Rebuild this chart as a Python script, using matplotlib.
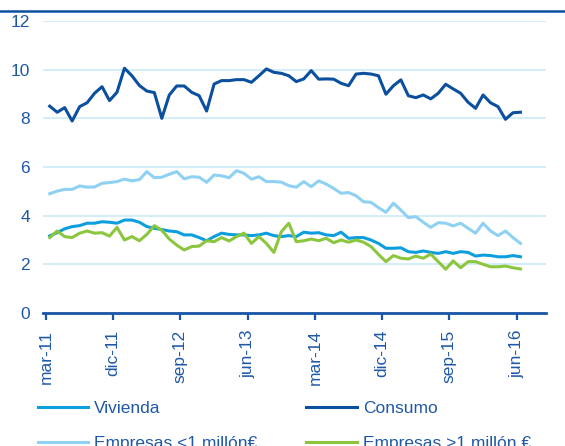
import numpy as np
import matplotlib
matplotlib.use("Agg")
import matplotlib.pyplot as plt
from matplotlib.lines import Line2D
import matplotlib.transforms as mtransforms

plt.rcParams['font.family'] = ['Liberation Sans', 'DejaVu Sans']

# ---- data (monthly, mar-11 .. jun-16) ----
tick_labels = ["mar-11", "dic-11", "sep-12", "jun-13", "mar-14", "dic-14", "sep-15", "jun-16"]

consumo = [8.50, 8.25, 8.44, 7.89, 8.48, 8.64, 9.03, 9.30, 8.73, 9.07,
           10.06, 9.75, 9.35, 9.12, 9.06, 8.00, 8.96, 9.33, 9.33, 9.07,
           8.93, 8.30, 9.41, 9.55, 9.55, 9.59, 9.59, 9.48, 9.75, 10.03,
           9.89, 9.85, 9.75, 9.51, 9.62, 9.96, 9.61, 9.62, 9.61, 9.44,
           9.34, 9.82, 9.85, 9.82, 9.75, 8.99, 9.34, 9.58, 8.93, 8.85,
           8.96, 8.80, 9.03, 9.40, 9.21, 9.03, 8.66, 8.41, 8.96, 8.64,
           8.48, 7.96, 8.23, 8.25]

empresas_menor = [4.90, 5.01, 5.08, 5.08, 5.22, 5.17, 5.18, 5.33, 5.36, 5.40,
                  5.50, 5.43, 5.48, 5.81, 5.56, 5.58, 5.70, 5.81, 5.51, 5.60,
                  5.58, 5.37, 5.67, 5.64, 5.56, 5.85, 5.74, 5.50, 5.60, 5.40,
                  5.40, 5.38, 5.23, 5.17, 5.40, 5.19, 5.43, 5.30, 5.12, 4.92,
                  4.95, 4.82, 4.57, 4.55, 4.33, 4.14, 4.51, 4.23, 3.92, 3.96,
                  3.73, 3.52, 3.71, 3.69, 3.58, 3.69, 3.48, 3.28, 3.69, 3.37,
                  3.18, 3.37, 3.10, 2.86]

vivienda = [3.17, 3.30, 3.46, 3.55, 3.59, 3.69, 3.69, 3.75, 3.73, 3.69,
            3.82, 3.82, 3.73, 3.55, 3.48, 3.43, 3.37, 3.34, 3.21, 3.21,
            3.10, 2.97, 3.14, 3.28, 3.23, 3.21, 3.21, 3.18, 3.21, 3.28,
            3.18, 3.14, 3.18, 3.14, 3.32, 3.28, 3.30, 3.21, 3.18, 3.32,
            3.07, 3.10, 3.10, 3.00, 2.86, 2.66, 2.66, 2.68, 2.52, 2.49,
            2.55, 2.49, 2.45, 2.52, 2.45, 2.52, 2.49, 2.34, 2.38, 2.36,
            2.31, 2.31, 2.36, 2.31]

empresas_mayor = [3.10, 3.37, 3.14, 3.10, 3.28, 3.37, 3.28, 3.30, 3.16, 3.52,
                  3.00, 3.14, 2.97, 3.23, 3.59, 3.40, 3.04, 2.79, 2.59, 2.73,
                  2.75, 2.97, 2.93, 3.10, 2.96, 3.14, 3.28, 2.86, 3.14, 2.86,
                  2.49, 3.34, 3.69, 2.93, 2.97, 3.04, 2.97, 3.07, 2.89, 3.00,
                  2.91, 3.00, 2.91, 2.73, 2.41, 2.11, 2.36, 2.25, 2.22, 2.34,
                  2.25, 2.42, 2.11, 1.80, 2.14, 1.86, 2.11, 2.11, 2.00, 1.90,
                  1.90, 1.93, 1.86, 1.81]

# ---- styles ----
C_CONSUMO = "#0b4f9f"
C_VIVIENDA = "#0d9fdd"
C_EMP_MENOR = "#8ed1f2"
C_EMP_MAYOR = "#8cc63f"
C_GRID = "#c8eaf8"
C_AXIS = "#1b55a6"
C_TEXT = "#1f58a8"
FS = 12.5

fig = plt.figure(figsize=(5.65, 4.46), dpi=100)
ax = fig.add_axes([43/565, 1-313/446, (546-43)/565, (313-21)/446])

months = np.arange(len(consumo)) + 0.5
lw = 2.2
ax.plot(months, vivienda, color=C_VIVIENDA, lw=lw, label="Vivienda", solid_joinstyle='round', zorder=3)
ax.plot(months, empresas_menor, color=C_EMP_MENOR, lw=lw, label="Empresas <1 millón€", solid_joinstyle='round', zorder=3)
ax.plot(months, consumo, color=C_CONSUMO, lw=lw, label="Consumo", solid_joinstyle='round', zorder=3)
ax.plot(months, empresas_mayor, color=C_EMP_MAYOR, lw=lw, label="Empresas >1 millón €", solid_joinstyle='round', zorder=4)

ax.set_ylim(0, 12)
ax.set_xlim(-3/7.471, 500/7.471)
ax.set_yticks(np.arange(0, 13, 2))
ax.yaxis.grid(True, color=C_GRID, lw=1.1, zorder=1)
ax.set_axisbelow(True)

tick_pos = np.arange(0, 64, 9)
ax.set_xticks(tick_pos)
ax.set_xticklabels(tick_labels, rotation=90, color=C_TEXT, fontsize=FS)
for lab in ax.get_xticklabels():
    lab.set_transform(lab.get_transform() + mtransforms.ScaledTranslation(3/100, 0, fig.dpi_scale_trans))
ax.tick_params(axis='x', direction='out', length=5, width=1.6, color=C_AXIS, pad=7)
ax.tick_params(axis='y', length=0, pad=9.5, labelcolor=C_TEXT, labelsize=FS)

for s in ['left', 'right', 'top']:
    ax.spines[s].set_visible(False)
ax.spines['bottom'].set_color(C_AXIS)
ax.spines['bottom'].set_linewidth(2.0)
ax.spines['bottom'].set_zorder(5)

# top rule of the title block
fig.add_artist(Line2D([0, 1], [1-11/446, 1-11/446], transform=fig.transFigure,
                      color="#0b4f9f", lw=1.8))

handles, labels = ax.get_legend_handles_labels()
leg = fig.legend(handles, labels,
                 loc='center left', bbox_to_anchor=(31/565, 1-426/446), ncol=2,
                 frameon=False, fontsize=FS, handlelength=2.9, handletextpad=0.35,
                 columnspacing=2.8, labelspacing=1.15, borderaxespad=0)
for t in leg.get_texts():
    t.set_color(C_TEXT)

fig.savefig("out.png", dpi=100, facecolor="white")
